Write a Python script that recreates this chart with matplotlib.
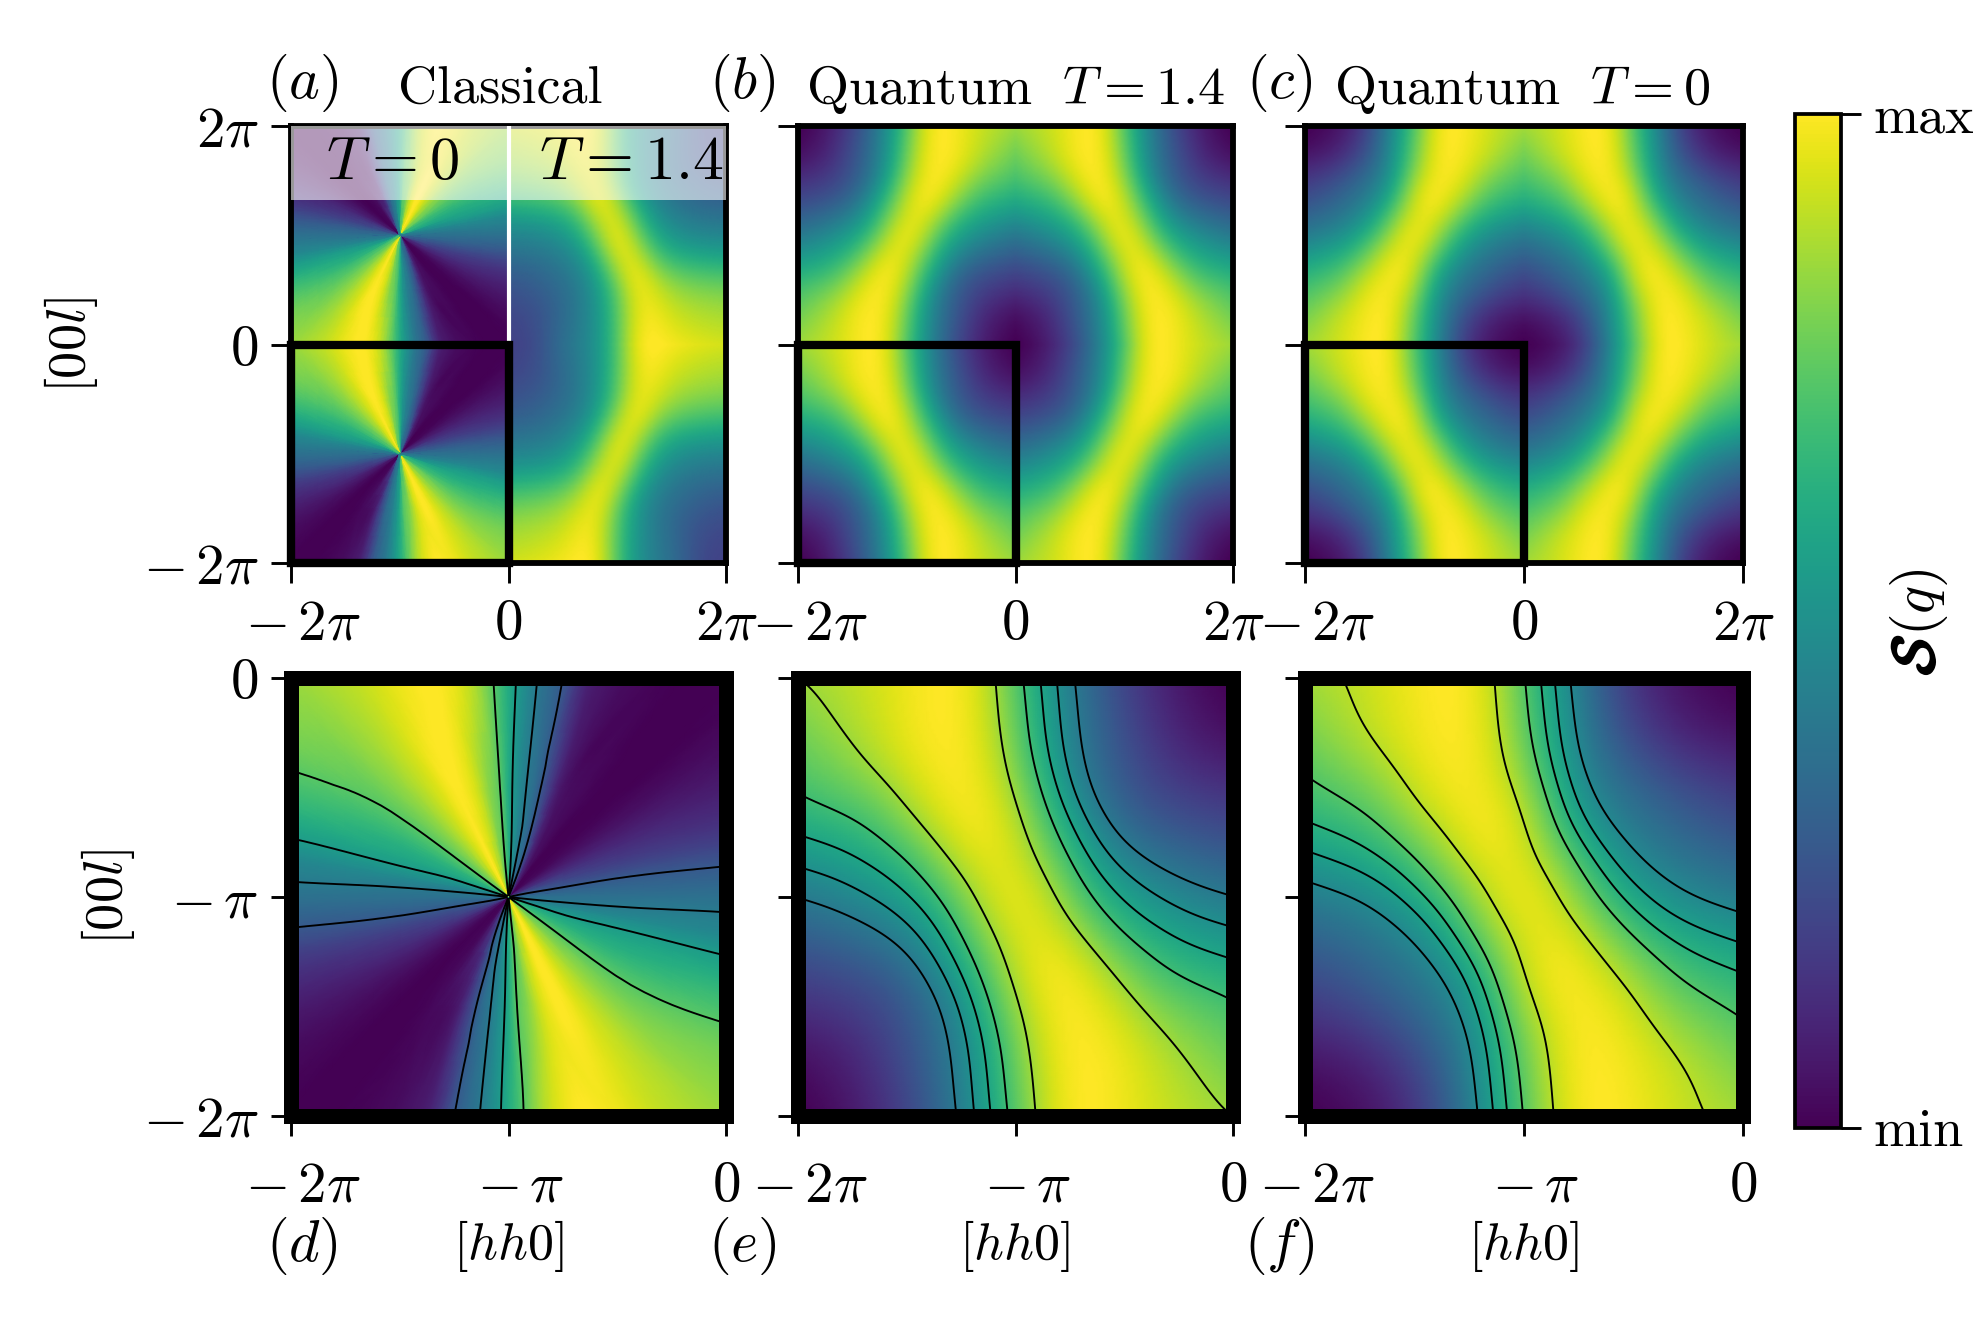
import numpy as np
import matplotlib
matplotlib.use('Agg')
import matplotlib.pyplot as plt
import matplotlib.tri as mtri
import matplotlib.patheffects as pe
from matplotlib.cm import ScalarMappable
from matplotlib.colors import Normalize
from matplotlib.patches import Rectangle
from matplotlib.transforms import ScaledTranslation

plt.rcParams['font.family'] = ['cmr10', 'DejaVu Sans']
plt.rcParams['mathtext.fontset'] = 'cm'
plt.rcParams['axes.formatter.use_mathtext'] = True

# lower half of the quadrant [-2pi,0]^2 (the rest is the point mirror)
quantum_t14 = [
    [.00, .03, .10, .20, .33, .51, .72, .95, 1.0, .96, .91, .87, .84],
    [.02, .05, .12, .22, .35, .52, .75, .95, 1.0, .96, .90, .85, .80],
    [.06, .09, .15, .25, .36, .54, .78, .97, .99, .95, .87, .80, .75],
    [.14, .16, .20, .27, .39, .60, .84, .98, .98, .89, .79, .74, .70],
    [.21, .23, .27, .33, .49, .68, .90, 1.0, .93, .80, .685, .64, .61],
    [.30, .33, .37, .45, .58, .78, .94, .95, .82, .66, .59, .54, .51],
    [.40, .43, .49, .56, .68, .88, 1.0, .88, .68, .56, .49, .43, .40],
]
quantum_t0 = [
    [.00, .02, .06, .15, .30, .52, .72, .94, 1.0, .97, .92, .875, .85],
    [.02, .04, .09, .18, .32, .54, .74, .95, 1.0, .96, .92, .86, .81],
    [.09, .11, .16, .25, .36, .55, .78, .96, .99, .95, .88, .81, .76],
    [.17, .20, .26, .33, .42, .60, .86, .97, .98, .91, .80, .74, .70],
    [.24, .27, .33, .39, .49, .67, .92, 1.0, .93, .83, .71, .66, .63],
    [.32, .35, .40, .47, .61, .80, .94, .96, .85, .70, .61, .56, .52],
    [.41, .44, .49, .59, .71, .90, 1.0, .90, .71, .59, .49, .44, .41],
]
classical_t14 = [
    [.92, .93, .95, .97, 1.0, .97, .72, .52, .43, .36, .27, .20, .19],
    [.88, .89, .91, .94, .99, .96, .72, .52, .42, .35, .27, .21, .20],
    [.84, .85, .87, .90, .97, .95, .73, .53, .42, .34, .27, .23, .22],
    [.78, .79, .81, .85, .93, .98, .75, .54, .42, .35, .30, .27, .25],
    [.68, .69, .71, .75, .85, 1.0, .86, .60, .46, .39, .34, .31, .30],
    [.55, .56, .58, .62, .72, .93, .95, .72, .52, .44, .40, .38, .37],
    [.45, .45, .47, .52, .62, .82, 1.0, .82, .62, .52, .47, .45, .45],
]
# classical T=0 around the pinch point: angle (deg) against centre, middle, edge of the square
pinch_angle = [0, 8, 16, 25, 35, 45, 55, 65, 70, 76, 82, 88, 94, 100, 108, 116, 125,
               135, 145, 150, 155, 160, 165, 170, 176, 180]
pinch_radius = [0.005, 0.5, 1.0]
pinch_values = [
    [.37, .37, .37], [.31, .30, .28], [.25, .20, .17], [.15, .12, .09], [.05, .04, .03],
    [.01, .00, .00], [.04, .02, .01], [.20, .07, .05], [.33, .19, .10], [.385, .34, .28],
    [.48, .43, .40], [.59, .55, .55], [.70, .73, .74], [.80, .82, .90], [.90, .95, 1.0],
    [1.0, 1.0, .98], [.92, .93, .91], [.82, .83, .85], [.73, .73, .79], [.68, .68, .74],
    [.63, .63, .685], [.59, .59, .62], [.50, .54, .55], [.45, .47, .47], [.39, .40, .41],
    [.37, .37, .37],
]
levels_d = [.28, .41, .55, .74]
levels_e = [.40, .49, .58, .68, .8405]
levels_f = [.46, .55, .63, .72, .88]

TOP_LABELS = [r'$(a)$', r'$(b)$', r'$(c)$']
BOTTOM_LABELS = [r'$(d)$', r'$(e)$', r'$(f)$']

W, H = 1980, 1320
fig = plt.figure(figsize=(6.6, 4.4), dpi=300)


def rect(l, t, r, b):
    return [l / W, 1 - b / H, (r - l) / W, (b - t) / H]


def put(x, y, s, **kw):
    kw.setdefault('fontsize', 13)
    return fig.text(x / W, 1 - y / H, s, ha='center', va='center', **kw)


def smooth(z, sigma=10):
    # takes the hand-reading wobble out of the table
    k = np.exp(-0.5 * (np.arange(-3 * sigma, 3 * sigma + 1) / sigma) ** 2)
    k /= k.sum()
    n = 3 * sigma
    p = np.pad(z, n, mode='reflect', reflect_type='odd')
    p = np.apply_along_axis(lambda c: np.convolve(c, k, mode='same'), 0, p)
    p = np.apply_along_axis(lambda c: np.convolve(c, k, mode='same'), 1, p)
    return p[n:-n, n:-n]


def quadrant_field(half, x0):
    half = np.array(half, dtype=float)
    z = np.vstack([half, half[-2::-1, ::-1]])
    x = np.linspace(x0, x0 + 2 * np.pi, 13)
    y = np.linspace(-2 * np.pi, 0, 13)
    X, Y = np.meshgrid(x, y)
    t = mtri.Triangulation(X.ravel(), Y.ravel())
    fine = mtri.UniformTriRefiner(t)
    tf, zf = fine.refine_field(z.ravel(), mtri.CubicTriInterpolator(t, z.ravel(), kind='geom'), subdiv=4)
    order = np.lexsort((np.round(tf.x, 6), np.round(tf.y, 6)))
    n = 193
    Xf = tf.x[order].reshape(n, n)
    Yf = tf.y[order].reshape(n, n)
    Zf = smooth(np.asarray(zf)[order].reshape(n, n))
    return Xf, Yf, Zf


def pinch_field():
    ang = np.array(pinch_angle, dtype=float)
    val = np.array(pinch_values, dtype=float)
    ang = np.concatenate([ang, ang[1:] + 180])
    val = np.vstack([val, val[1:]])
    A, R = np.meshgrid(ang / 180, pinch_radius, indexing='ij')
    t = mtri.Triangulation(A.ravel(), R.ravel())
    fine = mtri.UniformTriRefiner(t)
    tf, zf = fine.refine_field(val.ravel(), mtri.CubicTriInterpolator(t, val.ravel(), kind='geom'), subdiv=3)
    th = tf.x * np.pi
    r = tf.y * np.pi / np.maximum(np.abs(np.cos(th)), np.abs(np.sin(th)))
    return -np.pi + r * np.cos(th), -np.pi + r * np.sin(th), tf.triangles, np.clip(zf, 0, 1)


def draw(ax, field, sx=1, sy=1, levels=None):
    if len(field) == 4:
        x, y, tris, z = field
        t = mtri.Triangulation(x * sx, y * sy, tris)
        ax.tripcolor(t, z, shading='gouraud', cmap='viridis', vmin=0, vmax=1, rasterized=True)
        if levels is not None:
            ax.tricontour(t, z, levels=levels, colors='k', linewidths=0.45)
    else:
        X, Y, Z = field
        ax.pcolormesh(X * sx, Y * sy, Z, shading='gouraud', cmap='viridis', vmin=0, vmax=0.985, rasterized=True)
        if levels is not None:
            ax.contour(X * sx, Y * sy, Z, levels=levels, colors='k', linewidths=0.45)


def shift_minus(ax):
    # the minus sign pushes these labels to the right of their tick
    off = ScaledTranslation(12 / 300, 0, fig.dpi_scale_trans)
    for lab in ax.get_xticklabels():
        if '-' in lab.get_text():
            lab.set_transform(lab.get_transform() + off)


f_e = quadrant_field(quantum_t14, -2 * np.pi)
f_f = quadrant_field(quantum_t0, -2 * np.pi)
f_r = quadrant_field(classical_t14, 0)
f_d = pinch_field()

tops = [(291, 726), (798, 1233), (1305, 1743)]
top_fields = [None, f_e, f_f]
tw = r'$2\pi$'
mtw = r'$-\,2\pi$'
for i, (l, r) in enumerate(tops):
    ax = fig.add_axes(rect(l, 126, r, 563))
    if i == 0:
        draw(ax, f_d)
        draw(ax, f_d, sy=-1)
        draw(ax, f_r)
        draw(ax, f_r, sy=-1)
        ax.add_patch(Rectangle((-2 * np.pi, 4.16), 4 * np.pi, 2 * np.pi - 4.16, fc='w', ec='none', alpha=0.6, zorder=3))
        ax.plot([0, 0], [0, 2 * np.pi], color='w', lw=1.0, zorder=4)
        ax.text(-np.pi * 1.07, 5.2, r'$T=0$', fontsize=14.5, ha='center', va='center', zorder=5)
        ax.text(np.pi * 1.13, 5.2, r'$T=1.4$', fontsize=14.8, ha='center', va='center', zorder=5)
    else:
        f = top_fields[i]
        for sx in (1, -1):
            for sy in (1, -1):
                draw(ax, f, sx=sx, sy=sy)
    ax.add_patch(Rectangle((-2 * np.pi, -2 * np.pi), 2 * np.pi, 2 * np.pi, fc='none', ec='k', lw=2.0, zorder=6, clip_on=False))
    ax.set_xlim(-2 * np.pi, 2 * np.pi)
    ax.set_ylim(-2 * np.pi, 2 * np.pi)
    ax.set_xticks([-2 * np.pi, 0, 2 * np.pi], [mtw, '$0$', tw])
    ax.set_yticks([-2 * np.pi, 0, 2 * np.pi], [mtw, '$0$', tw] if i == 0 else [])
    ax.tick_params(length=4.8, width=0.7, labelsize=13.7)
    ax.tick_params(axis='x', pad=3.9)
    ax.tick_params(axis='y', pad=3)
    shift_minus(ax)
    for s in ax.spines.values():
        s.set_linewidth(1.4)

bottoms = [(291, 726), (798, 1233), (1305, 1743)]
bottom_fields = [f_d, f_e, f_f]
bottom_levels = [levels_d, levels_e, levels_f]
for i, (l, r) in enumerate(bottoms):
    ax = fig.add_axes(rect(l, 678, r, 1116))
    draw(ax, bottom_fields[i], levels=bottom_levels[i])
    ax.set_xlim(-2 * np.pi, 0)
    ax.set_ylim(-2 * np.pi, 0)
    ax.set_xticks([-2 * np.pi, -np.pi, 0], [mtw, r'$-\,\pi$', '$0$'])
    ax.set_yticks([-2 * np.pi, -np.pi, 0], [mtw, r'$-\,\pi$', '$0$'] if i == 0 else [])
    ax.tick_params(length=4.8, width=0.7, labelsize=13.7)
    ax.tick_params(axis='x', pad=6)
    ax.tick_params(axis='y', pad=3)
    shift_minus(ax)
    for s in ax.spines.values():
        s.set_linewidth(3.6)

for x, s in zip((302, 742, 1279), TOP_LABELS):
    put(x, 83, s, fontsize=14)
for x, s in zip((302, 742, 1279), BOTTOM_LABELS):
    put(x, 1246, s, fontsize=14)
put(500, 89, 'Classical')
put(1016, 89, r'Quantum $\;T=1.4$')
put(1522, 89, r'Quantum $\;T=0$')
for x in (508, 1014, 1523):
    put(x, 1246, r'$[hh0]$', fontsize=12.5)
put(71, 345, r'$[00l]$', rotation=90)
put(108, 897, r'$[00l]$', rotation=90)

cax = fig.add_axes(rect(1795, 114, 1841, 1128))
cb = fig.colorbar(ScalarMappable(Normalize(0, 1), 'viridis'), cax=cax, ticks=[0, 1])
cb.ax.set_yticklabels(['min', 'max'])
cb.ax.tick_params(length=4.8, width=0.7, labelsize=13, pad=3)
cb.outline.set_linewidth(0.9)
t = put(1919, 655, r'$\mathcal{S}$', rotation=90, fontsize=14)
t.set_path_effects([pe.withStroke(linewidth=0.7, foreground='k')])
put(1919, 602, r'$(q)$', rotation=90, fontsize=14)

fig.savefig('out.png', dpi=300)
